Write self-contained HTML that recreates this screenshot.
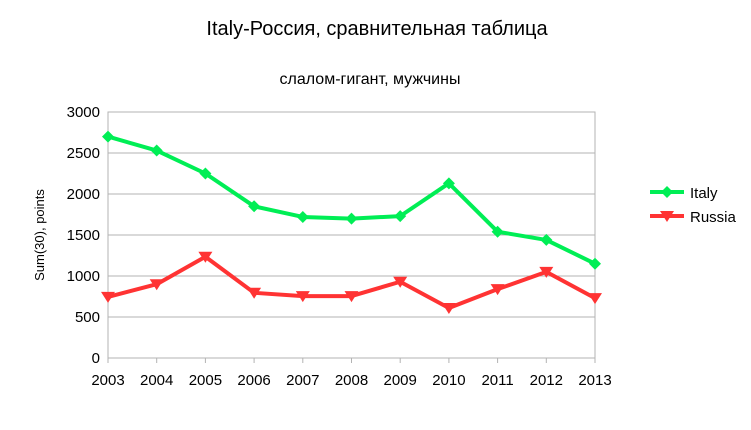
<!DOCTYPE html>
<html><head><meta charset="utf-8"><style>
body{margin:0;background:#fff;}
text{font-family:"Liberation Sans",sans-serif;fill:#000;}
</style></head><body>
<svg width="751" height="425" xmlns="http://www.w3.org/2000/svg">
<rect width="751" height="425" fill="#fff"/>
<text x="377" y="35" font-size="20" text-anchor="middle">Italy-Россия, сравнительная таблица</text>
<text x="370" y="84" font-size="16" text-anchor="middle">слалом-гигант, мужчины</text>
<text transform="translate(44,235) rotate(-90)" font-size="13" text-anchor="middle">Sum(30), points</text>
<g id="grid"></g><g id="series"></g>
<g>
<line x1="650" y1="192" x2="684" y2="192" stroke="#00ee55" stroke-width="4"/>
<path d="M667 186 L673 192 L667 198 L661 192Z" fill="#00ee55"/>
<text x="690" y="198" font-size="15">Italy</text>
<line x1="650" y1="216" x2="684" y2="216" stroke="#ff3333" stroke-width="4"/>
<path d="M660 211 L674 211 L667 222Z" fill="#ff3333"/>
<text x="690" y="222" font-size="15">Russia</text>
</g>
</svg>
<script>
const years=["2003","2004","2005","2006","2007","2008","2009","2010","2011","2012","2013"];
const italy=[2700,2530,2250,1850,1720,1700,1730,2130,1540,1440,1150];
const russia=[745,900,1235,795,755,755,930,610,840,1050,730];
const yTicks=[0,500,1000,1500,2000,2500,3000];
const NS="http://www.w3.org/2000/svg";
const L=108,R=595,T=112,B=358;
const x=i=>L+i*(R-L)/(years.length-1);
const y=v=>B-v/3000*(B-T);
function mk(t,a,p){const e=document.createElementNS(NS,t);for(const k in a)e.setAttribute(k,a[k]);p.appendChild(e);return e;}
const g=document.getElementById('grid'),s=document.getElementById('series');
yTicks.forEach(v=>{
 const l=mk('line',{x1:L,x2:R,y1:y(v),y2:y(v),stroke:'#b3b3b3','stroke-width':1},g);
 
 const t=mk('text',{x:L-8,y:y(v)+5,'font-size':15,'text-anchor':'end'},g);t.textContent=v;
 
});
const fr=mk('rect',{x:L,y:T,width:R-L,height:B-T,fill:'none',stroke:'#b3b3b3'},g);

years.forEach((yr,i)=>{
 mk('line',{x1:x(i),x2:x(i),y1:B,y2:B+5,stroke:'#b3b3b3'},g);
 const t=mk('text',{x:x(i),y:B+27,'font-size':15,'text-anchor':'middle'},g);t.textContent=yr;
 
});
function series(vals,col,name,marker){
 const p=mk('polyline',{points:vals.map((v,i)=>x(i)+','+y(v)).join(' '),fill:'none',stroke:col,'stroke-width':4,'stroke-linejoin':'round'},s);
 
 vals.forEach((v,i)=>{
  const cx=x(i),cy=y(v);
  const d=marker==='diamond'?`M${cx} ${cy-6}L${cx+6} ${cy}L${cx} ${cy+6}L${cx-6} ${cy}Z`:`M${cx-7} ${cy-5}L${cx+7} ${cy-5}L${cx} ${cy+6}Z`;
  const m=mk('path',{d:d,fill:col},s);
  
 });
}
series(italy,'#00ee55','italy','diamond');
series(russia,'#ff3333','russia','tri');
</script>
</body></html>
